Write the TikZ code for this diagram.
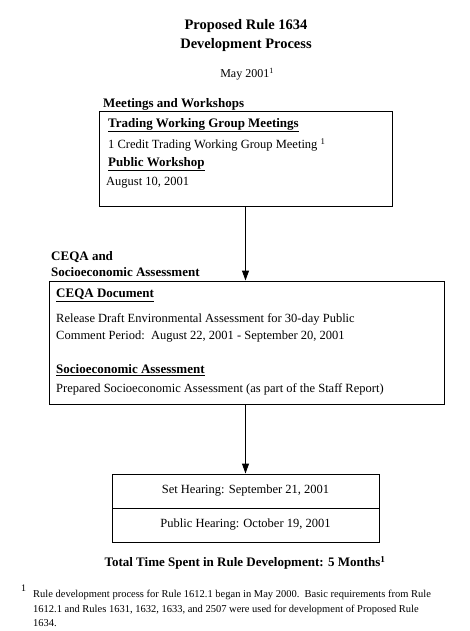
\documentclass[tikz,border=0pt]{standalone}
\usepackage{fontspec}
\setmainfont{Liberation Serif}
\usetikzlibrary{arrows.meta}

\tikzset{
  stagebox/.style={draw, line width=1pt, inner sep=0pt},
  txt/.style={anchor=west, inner sep=0pt, font=\fontsize{12.5}{14}\selectfont},
  head/.style={anchor=west, inner sep=0pt, font=\fontsize{13}{16}\selectfont\bfseries},
  flow/.style={line width=1pt, -{Triangle[width=7pt,length=10pt]}}
}

\begin{document}
\begin{tikzpicture}[x=1pt, y=-1pt]
		\useasboundingbox (0,0) rectangle (470,631);

		% Title
		\node[font=\fontsize{14.5}{19}\selectfont\bfseries, align=center] (title) at (246,36) {Proposed Rule 1634\\Development Process};
		\node[txt, anchor=center, font=\fontsize{12}{14}\selectfont] (date) at (247,74) {May 2001\textsuperscript{1}};

		% Meetings and Workshops
		\node[head] (meethead) at (103,104) {Meetings and Workshops};
		\node[stagebox, minimum width=293pt, minimum height=94pt] (meet) at (245.5,159) {};
		\node[head] at (108,125) {\underline{Trading Working Group Meetings}};
		\node[txt] at (108,145) {1 Credit Trading Working Group Meeting \textsuperscript{1}};
		\node[head] at (108,164) {\underline{Public Workshop}};
		\node[txt] at (106,183) {August 10, 2001};

		% CEQA and Socioeconomic Assessment
		\node[head, align=left] (ceqahead) at (51,264) {CEQA and\\Socioeconomic Assessment};
		\node[stagebox, minimum width=395pt, minimum height=123pt] (ceqa) at (246.5,342.5) {};
		\node[head] at (56,295) {\underline{CEQA Document}};
		\node[txt] at (56,319) {Release Draft Environmental Assessment for 30-day Public};
		\node[txt] at (56,337) {Comment Period:\ \ August 22, 2001 - September 20, 2001};
		\node[head] at (56,370) {\underline{Socioeconomic Assessment}};
		\node[txt] at (56,389) {Prepared Socioeconomic Assessment (as part of the Staff Report)};

		% Hearings
		\node[stagebox, minimum width=267pt, minimum height=34pt] (sethr) at (245.5,491) {};
		\node[stagebox, minimum width=267pt, minimum height=34pt] (pubhr) at (245.5,525) {};
		\node[txt, anchor=center] at (sethr.center) {Set Hearing: September 21, 2001};
		\node[txt, anchor=center] at (pubhr.center) {Public Hearing: October 19, 2001};

		% Arrows
		\draw[flow] (meet.south) -- (meet.south |- ceqa.north);
		\draw[flow] (ceqa.south -| sethr.north) -- (sethr.north);

		% Total
		\node[font=\fontsize{13}{15}\selectfont\bfseries] (total) at (245,563) {Total Time Spent in Rule Development: 5 Months\textsuperscript{1}};

		% Footnote
		\node[anchor=north west, inner sep=0pt, font=\fontsize{10}{12}\selectfont] (fnmark) at (21,585) {1};
		\node[anchor=north west, inner sep=0pt, align=left, font=\fontsize{10.5}{14.5}\selectfont] (fntext) at (33,590) {Rule development process for Rule 1612.1 began in May 2000.\ \ Basic requirements from Rule\\1612.1 and Rules 1631, 1632, 1633, and 2507 were used for development of Proposed Rule\\1634.};
	\end{tikzpicture}
\end{document}
